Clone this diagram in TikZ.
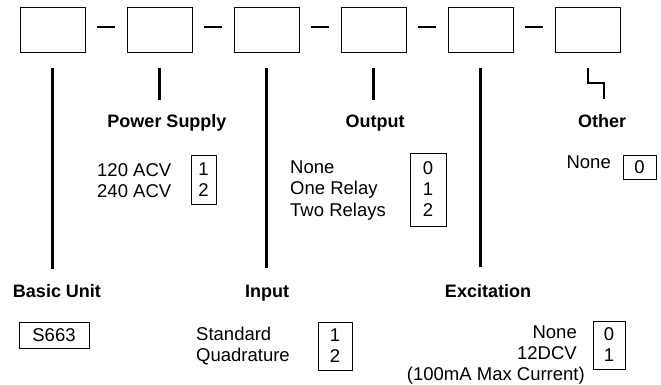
\documentclass[tikz,border=0pt]{standalone}
\usepackage{fontspec}
\setmainfont{Liberation Sans}
\usetikzlibrary{positioning}

\begin{document}
\begin{tikzpicture}[x=1pt, y=-1pt, node distance=107pt, on grid,
   code/.style={draw, line width=1pt, minimum width=65pt, minimum height=45pt, inner sep=0pt},
   lead/.style={line width=2.4pt},
   head/.style={font=\fontsize{18}{21}\selectfont\bfseries, inner sep=0pt, anchor=base},
   item/.style={font=\fontsize{18.5}{21}\selectfont, inner sep=0pt},
   pick/.style={draw, line width=0.9pt, font=\fontsize{18.5}{21}\selectfont, align=center, inner sep=0pt}]

   \useasboundingbox (0,0) rectangle (661,385);

   \node[code] (basic) at (52.5,30.5) {};
   \node[code] (power) [right=of basic] {};
   \node[code] (input) [right=of power] {};
   \node[code] (output) [right=of input] {};
   \node[code] (excit) [right=of output] {};
   \node[code] (other) [right=of excit] {};

   \foreach \a/\b in {basic/power, power/input, input/output, output/excit, excit/other}
     \draw[lead] ([shift={(11pt,3.5pt)}]\a.east) -- ([shift={(-12pt,3.5pt)}]\b.west);

   \draw[lead] ([yshift=-15pt]basic.south) -- ++(0,200);
   \draw[lead] ([yshift=-15pt]power.south) -- ++(0,32);
   \draw[lead] ([yshift=-15pt]input.south) -- ++(0,199);
   \draw[lead] ([yshift=-15pt]output.south) -- ++(0,32);
   \draw[lead] ([yshift=-15pt]excit.south) -- ++(0,198);
   \draw[lead, line width=2pt] ([yshift=-15pt]other.south) -- ++(0,15) -- ++(16,0) -- ++(0,16);

   % headings
   \node[head] (lpower) at (167,128) {Power Supply};
   \node[head] (loutput) at (375,128) {Output};
   \node[head] (lother) at (602,128) {Other};
   \node[head] (lbasic) at (57,297) {Basic Unit};
   \node[head] (linput) at (267,297) {Input};
   \node[head] (lexcit) at (488,297) {Excitation};

   % choices
   \foreach \t [count=\i] in {120 ACV, 240 ACV}
     \node[item, anchor=base west] (ps\i) at (97,{176.5+21*(\i-1)}) {\t};
   \node[pick, minimum width=25pt, minimum height=49pt] (pspick) at (203.5,179.5) {1\\2};

   \foreach \t [count=\i] in {None, One Relay, Two Relays}
     \node[item, anchor=base west] (out\i) at (290,{173+21.5*(\i-1)}) {\t};
   \node[pick, minimum width=36pt, minimum height=73pt] (outpick) at (428,189.5) {0\\1\\2};

   \node[item, anchor=base east] (oth1) at (611,168.5) {None};
   \node[pick, minimum width=33pt, minimum height=24pt] (othpick) at (639.5,167) {0};

   \node[pick, minimum width=70pt, minimum height=26pt] (basicpick) at (54,335) {S663};

   \foreach \t [count=\i] in {Standard, Quadrature}
     \node[item, anchor=base west] (in\i) at (196,{340.5+20.5*(\i-1)}) {\t};
   \node[pick, minimum width=34pt, minimum height=48pt] (inpick) at (335,346) {1\\2};

   \foreach \t [count=\i] in {None, 12DCV}
     \node[item, anchor=base east] (ex\i) at (577,{338.5+21*(\i-1)}) {\t};
   \node[item, anchor=base east] (ex3) at (585,380.5) {(100mA Max Current)};
   \node[pick, minimum width=32pt, minimum height=48pt] (expick) at (609,345) {0\\1};

\end{tikzpicture}
\end{document}
